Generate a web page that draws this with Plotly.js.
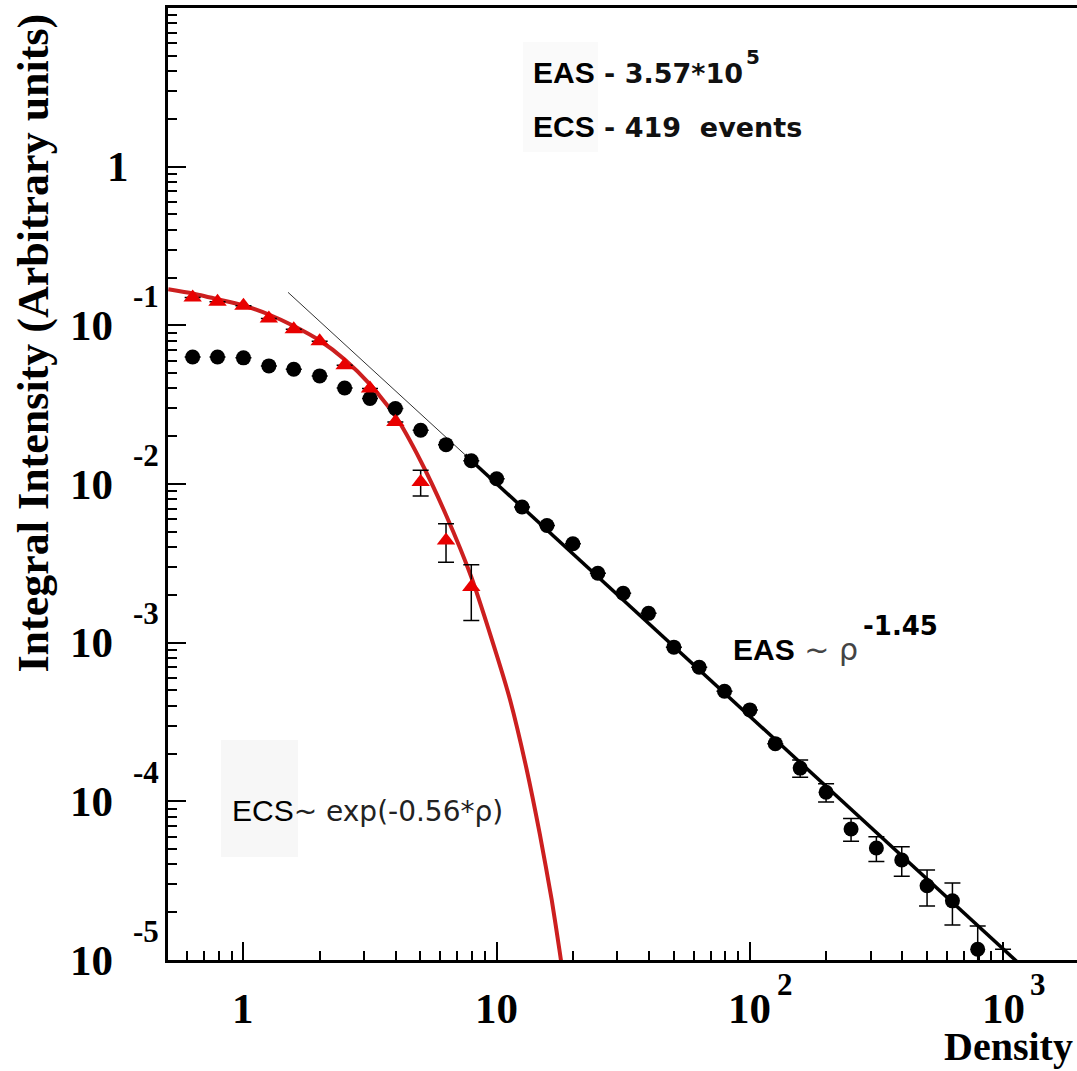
<!DOCTYPE html>
<html>
<head>
<meta charset="utf-8">
<script src="https://cdn.plot.ly/plotly-3.0.1.min.js"></script>
<style>body{margin:0;background:#fff;}#chart{width:1077px;height:1071px;}</style>
</head>
<body>
<div id="chart"></div>
<script>
// ---------------- data ----------------
const easX = [0.63,0.79,1.0,1.26,1.58,2.0,2.51,3.16,3.98,5.01,6.31,7.94,10,12.6,15.8,20,25.1,31.6,39.8,50.1,63.1,79.4,100,126,158,200,251,316,398,501,631,794,1000];
const easY = [0.0632,0.0632,0.0624,0.0555,0.0529,0.0480,0.0403,0.0346,0.0299,0.0218,0.0177,0.0140,0.0108,0.00716,0.00548,0.00420,0.00274,0.00205,0.00153,0.000937,0.000700,0.000494,0.000377,0.000231,0.000162,0.000114,0.0000670,0.0000508,0.0000427,0.0000294,0.0000236,0.0000117,0.0000080];
const easErr = [0,0,0,0,0,0,0,0,0,0,0,0,0,0,0,0,0,0,0,0,0,0,0,0,0.000020,0.000015,0.000011,0.0000090,0.0000090,0.0000075,0.0000070,0.0000047,0.0000037];

const ecsX = [0.63,0.79,1.0,1.26,1.58,2.0,2.51,3.16,3.98,5.01,6.31,7.94];
const ecsY = [0.150,0.1406,0.1327,0.1106,0.0946,0.0795,0.0561,0.0400,0.0246,0.0103,0.00441,0.00224];
const ecsErr = [0,0,0,0,0,0,0,0,0,0.0019,0.0012,0.00086];

// ECS fit curve
const ecsFitX = [0.505,0.63,0.79,1.0,1.26,1.58,2.0,2.51,3.16,3.98,5.01,6.31,7.94,10.0,11.3,13.1,14.8,16.5,17.7,18.3];
const ecsFitY = [0.1687,0.1588,0.1461,0.1334,0.1170,0.0990,0.0802,0.0609,0.0424,0.02683,0.01396,0.00638,0.002594,0.000837,0.000435,0.0001622,0.0000623,0.0000239,0.00001157,0.00000804];

// EAS power-law fit: thin extension and thick fitted part
const easFitThinX = [1.5, 7.5];
const easFitThinY = [0.1614, 0.0153];
const easFitX = [7.5, 1200];
const easFitY = [0.0153, 0.0000090];

// tick labels
const xTickVals = [1, 10, 100, 1000];
const xTickBase = ['1', '10', '10', '10'];
const xTickExp  = ['', '', '2', '3'];
const yTickVals = [1, 0.1, 0.01, 0.001, 0.0001, 0.00001];
const yTickBase = ['1', '10', '10', '10', '10', '10'];
const yTickExp  = ['', '-1', '-2', '-3', '-4', '-5'];

// ---------------- layout helpers ----------------
const W = 1077, H = 1071, L = 168, R = 0, T = 8, B = 111;
const pw = W - L - R, ph = H - T - B;
const px = x => (x - L) / pw;
const py = y => (H - B - y) / ph;

const serif = 'Liberation Serif, Times New Roman, serif';
const red = '#e80000';
const redLine = '#cc1f1f';

const traces = [
  {x: easFitThinX, y: easFitThinY, mode: 'lines', line: {color: '#333', width: 1}, hoverinfo: 'skip'},
  {x: easFitX, y: easFitY, mode: 'lines', line: {color: 'black', width: 3.5}, hoverinfo: 'skip'},
  {x: ecsFitX, y: ecsFitY, mode: 'lines', line: {color: redLine, width: 4, shape: 'spline', smoothing: 0.6}, hoverinfo: 'skip'},
  {x: easX, y: easY, mode: 'markers', marker: {symbol: 'circle', size: 15, color: 'black'},
   error_y: {type: 'data', array: easErr, symmetric: true, color: 'black', thickness: 1.5, width: 8}},
  {x: ecsX, y: ecsY, mode: 'markers', marker: {symbol: 'triangle-up', size: 16, color: red},
   error_y: {type: 'data', array: ecsErr, symmetric: true, color: 'black', thickness: 1.5, width: 8}}
];

const annotations = [];
const tickFont = {family: serif, size: 43, color: 'black', weight: 700};
const expFont = {family: serif, size: 31, color: 'black', weight: 700};

xTickVals.forEach((v, i) => {
  annotations.push({xref: 'x', yref: 'paper', x: Math.log10(v), y: 0, text: xTickBase[i], showarrow: false,
    xanchor: 'center', yanchor: 'middle', yshift: -48, font: tickFont});
  if (xTickExp[i]) annotations.push({xref: 'x', yref: 'paper', x: Math.log10(v), y: 0, text: xTickExp[i], showarrow: false,
    xanchor: 'left', yanchor: 'middle', xshift: 25, yshift: -24, font: expFont});
});
yTickVals.forEach((v, i) => {
  annotations.push({xref: 'paper', yref: 'y', x: 0, y: Math.log10(v), text: yTickBase[i], showarrow: false,
    xanchor: 'right', yanchor: 'middle', xshift: yTickExp[i] ? -53 : -37, font: tickFont});
  if (yTickExp[i]) annotations.push({xref: 'paper', yref: 'y', x: 0, y: Math.log10(v), text: yTickExp[i], showarrow: false,
    xanchor: 'left', yanchor: 'middle', xshift: -37, yshift: 29, font: expFont});
});

// axis titles
annotations.push({xref: 'paper', yref: 'paper', x: px(33), y: py(12), xanchor: 'center', yanchor: 'top', textangle: -90,
  text: 'Integral Intensity (Arbitrary units)', showarrow: false, font: {family: serif, size: 44, color: 'black', weight: 700}});
annotations.push({xref: 'paper', yref: 'paper', x: px(1075), y: py(1046), xanchor: 'right', yanchor: 'middle',
  text: 'Density', showarrow: false, font: {family: serif, size: 40, color: 'black', weight: 700}});

// text labels
const sansB = "font-family:'Liberation Sans';font-weight:bold;";
const djB = "font-family:'DejaVu Sans';font-weight:bold;";
annotations.push({xref: 'paper', yref: 'paper', x: px(531), y: py(73), xanchor: 'left', yanchor: 'middle', showarrow: false,
  font: {family: 'DejaVu Sans', size: 27, color: '#111'},
  text: `<span style="${sansB}font-size:30px;color:#000">EAS</span><span style="${djB}font-size:27px"> - 3.57*10</span>`});
annotations.push({xref: 'paper', yref: 'paper', x: px(744), y: py(57), xanchor: 'left', yanchor: 'middle', showarrow: false,
  font: {family: 'DejaVu Sans', size: 20, color: '#111', weight: 700}, text: '5'});
annotations.push({xref: 'paper', yref: 'paper', x: px(531), y: py(126), xanchor: 'left', yanchor: 'middle', showarrow: false,
  font: {family: 'DejaVu Sans', size: 27, color: '#111'},
  text: `<span style="${sansB}font-size:30px;color:#000">ECS</span><span style="${djB}font-size:27px"> - 419\u00A0\u00A0events</span>`});
annotations.push({xref: 'paper', yref: 'paper', x: px(731), y: py(649), xanchor: 'left', yanchor: 'middle', showarrow: false,
  font: {family: 'DejaVu Sans', size: 30, color: '#000'},
  text: `<span style="${sansB}font-size:30px">EAS</span><span style="font-family:'DejaVu Sans';font-size:30px;color:#444"> ~ ρ</span>`});
annotations.push({xref: 'paper', yref: 'paper', x: px(861), y: py(626), xanchor: 'left', yanchor: 'middle', showarrow: false,
  font: {family: 'DejaVu Sans', size: 26, color: '#000', weight: 700}, text: '-1.45'});
annotations.push({xref: 'paper', yref: 'paper', x: px(230), y: py(811), xanchor: 'left', yanchor: 'middle', showarrow: false,
  font: {family: 'DejaVu Sans', size: 28, color: '#000'},
  text: `<span style="font-family:'Liberation Sans';font-size:30px">ECS</span><span style="font-family:'DejaVu Sans';font-size:28px;color:#222">~ exp(-0.56*ρ)</span>`});

const shapes = [
  {type: 'rect', xref: 'paper', yref: 'paper', x0: px(221), x1: px(298), y0: py(857), y1: py(740), fillcolor: '#f7f7f7', line: {width: 0}, layer: 'below'},
  {type: 'rect', xref: 'paper', yref: 'paper', x0: px(523), x1: px(598), y0: py(152), y1: py(42), fillcolor: '#fafafa', line: {width: 0}, layer: 'below'}
];

const axisCommon = {
  type: 'log', showline: true, linewidth: 3, linecolor: 'black', ticks: 'inside', ticklen: 18, tickwidth: 2,
  tickcolor: 'black', dtick: 1, showticklabels: false, showgrid: false, zeroline: false,
  minor: {ticks: 'inside', ticklen: 9, tickwidth: 2, tickcolor: 'black', dtick: 'D1', showgrid: false}
};

const layout = {
  width: W, height: H,
  margin: {l: L, r: R, t: T, b: B, pad: 0},
  paper_bgcolor: 'white', plot_bgcolor: 'white',
  showlegend: false,
  xaxis: Object.assign({}, axisCommon, {range: [-0.298, 3.292], mirror: true}),
  yaxis: Object.assign({}, axisCommon, {range: [-5, 1], mirror: false}),
  annotations: annotations,
  shapes: shapes
};

Plotly.newPlot('chart', traces, layout, {displayModeBar: false, staticPlot: true});
</script>
</body>
</html>
